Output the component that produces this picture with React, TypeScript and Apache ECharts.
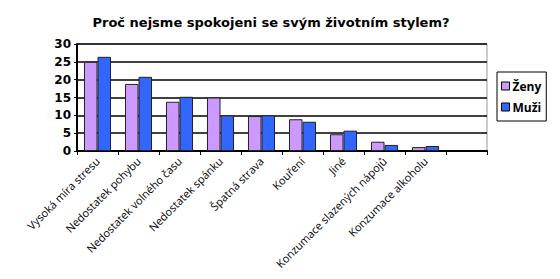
import React, { useEffect, useRef } from "react";
import * as echarts from "echarts";

const categories = [
  "Vysoká míra stresu",
  "Nedostatek pohybu",
  "Nedostatek volného času",
  "Nedostatek spánku",
  "Špatná strava",
  "Kouření",
  "Jiné",
  "Konzumace slazených nápojů",
  "Konzumace alkoholu",
  "",
];
const zeny = [25, 18.8, 13.8, 15, 9.8, 8.9, 4.7, 2.6, 1.1, null];
const muzi = [26.4, 20.8, 15.2, 10, 10, 8.2, 5.7, 1.7, 1.4, null];
const yTicks = { min: 0, max: 30, interval: 5 };

export default function App() {
  const ref = useRef<HTMLDivElement>(null);
  useEffect(() => {
    if (!ref.current) return;
    const chart = echarts.init(ref.current, undefined, { renderer: "svg" });
    chart.setOption({
      animation: false,
      backgroundColor: "#fff",
      title: {
        text: "Proč nejsme spokojeni se svým životním stylem?",
        left: 266,
        textAlign: "center",
        top: 11,
        textStyle: { fontFamily: "DejaVu Sans", fontSize: 13, fontWeight: "bold", color: "#000" },
      },
      legend: {
        orient: "vertical",
        left: 497,
        top: 72,
        borderColor: "#000",
        borderWidth: 1,
        padding: [8, 5, 8, 4],
        itemGap: 9,
        itemWidth: 8,
        itemHeight: 8,
        icon: "rect",
        textStyle: { fontFamily: "Open Sans", fontSize: 12, fontWeight: "bold", color: "#000", padding: [0, 0, 0, -2] },
        data: [
          { name: "Ženy", itemStyle: { borderColor: "#000", borderWidth: 1 } },
          { name: "Muži", itemStyle: { borderColor: "#000", borderWidth: 1 } },
        ],
      },
      grid: {
        left: 77,
        top: 44,
        width: 410,
        height: 107,
        show: true,
        borderColor: "#999",
        borderWidth: 1,
      },
      xAxis: {
        type: "category",
        data: categories,
        axisLine: { lineStyle: { color: "#000", width: 2 } },
        axisTick: { show: true, length: 4, lineStyle: { color: "#000" } },
        axisLabel: {
          rotate: 45,
          interval: 0,
          fontFamily: "Open Sans",
          fontSize: 11,
          color: "#000",
          margin: 8,
        },
      },
      yAxis: {
        type: "value",
        min: yTicks.min,
        max: yTicks.max,
        interval: yTicks.interval,
        axisLine: { show: true, lineStyle: { color: "#000", width: 2 } },
        axisTick: { show: true, length: 3, lineStyle: { color: "#000" } },
        axisLabel: { fontFamily: "DejaVu Sans", fontSize: 12, fontWeight: "bold", color: "#000", margin: 6 },
        splitLine: { show: true, lineStyle: { color: "#000", width: 1.5 } },
      },
      series: [
        {
          name: "Ženy",
          type: "bar",
          data: zeny,
          barGap: "0%",
          barCategoryGap: "34%",
          itemStyle: { color: "#CC99FF", borderColor: "#222", borderWidth: 1 },
        },
        {
          name: "Muži",
          type: "bar",
          data: muzi,
          barGap: "0%",
          barCategoryGap: "34%",
          itemStyle: { color: "#3366FF", borderColor: "#222", borderWidth: 1 },
        },
      ],
    });
    return () => chart.dispose();
  }, []);
  return <div ref={ref} style={{ width: 560, height: 279, position: "absolute", left: 0, top: 0 }} />;
}
